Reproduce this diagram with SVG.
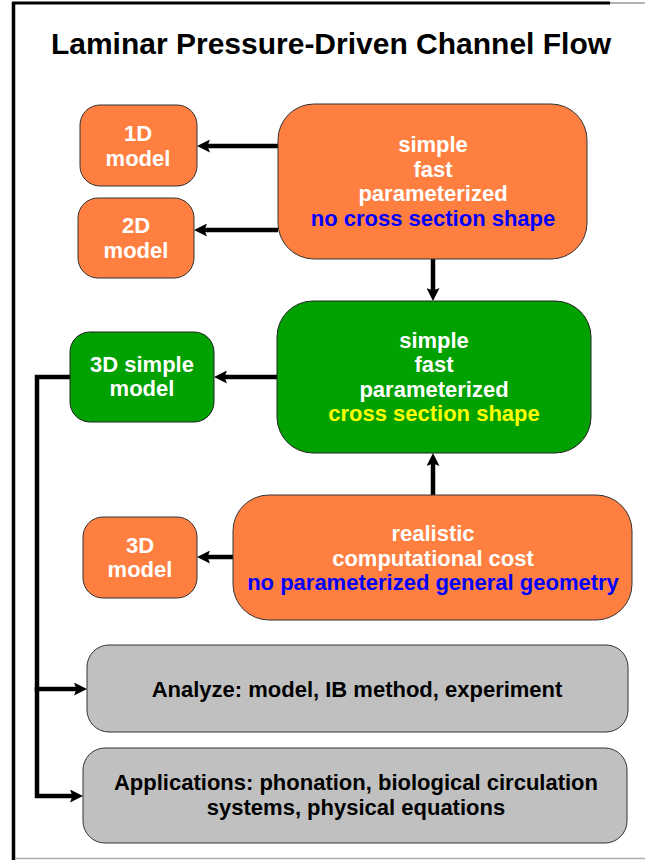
<svg xmlns="http://www.w3.org/2000/svg" width="645" height="860" viewBox="0 0 645 860">
  <style>
    .t { font-family: "Liberation Sans", Arial, sans-serif; font-weight: bold; text-anchor: middle; }
    .lbl { font-size: 22px; }
    .w { fill: #ffffff; }
    .k { fill: #000000; }
    .b { fill: #0000ff; }
    .y { fill: #ffff00; }
    .orange { fill: #ff7f41; stroke: #333333; stroke-width: 1; }
    .green { fill: #00a100; stroke: #222222; stroke-width: 1; }
    .grey { fill: #c0c0c0; stroke: #333333; stroke-width: 1; }
    .conn { fill: none; stroke: #000000; stroke-width: 4.5; stroke-linejoin: miter; marker-end: url(#ah); }
  </style>
  <defs>
    <marker id="ah" viewBox="0 0 13 13" markerWidth="13" markerHeight="13" refX="5" refY="6.5" orient="auto" markerUnits="userSpaceOnUse">
      <path d="M0,0 L13,6.5 L0,13 L2.5,6.5 z" fill="#000000"/>
    </marker>
  </defs>

  <rect x="0" y="0" width="645" height="860" fill="#ffffff"/>

  <g id="frame">
    <line x1="12" y1="3" x2="610" y2="3" stroke="#000000" stroke-width="3"/>
    <line x1="610" y1="3" x2="645" y2="3" stroke="#9a9a9a" stroke-width="1.5"/>
    <line x1="13.5" y1="2" x2="13.5" y2="860" stroke="#000000" stroke-width="3.5"/>
    <line x1="15" y1="858.5" x2="645" y2="858.5" stroke="#aaaaaa" stroke-width="1.5"/>
  </g>

  <g id="title">
    <text class="t k" x="331" y="54" font-size="30">Laminar Pressure-Driven Channel Flow</text>
  </g>

  <g id="connectors">
    <path class="conn" d="M278,146 L205,146"/>
    <path class="conn" d="M278,230 L202,230"/>
    <path class="conn" d="M433,259 L433,293"/>
    <path class="conn" d="M277,377 L222,377"/>
    <path class="conn" d="M433,495 L433,461"/>
    <path class="conn" d="M233,557 L205,557"/>
    <path class="conn" d="M70,377 L37,377 L37,689 L79,689"/>
    <path class="conn" d="M37,687 L37,796 L75,796"/>
  </g>

  <g id="node-1d">
    <rect class="orange" x="80" y="105" width="117" height="81" rx="20"/>
    <text class="t lbl w" x="138" y="141">1D</text>
    <text class="t lbl w" x="138" y="166">model</text>
  </g>

  <g id="node-2d">
    <rect class="orange" x="78" y="198" width="116" height="80" rx="20"/>
    <text class="t lbl w" x="136" y="233">2D</text>
    <text class="t lbl w" x="136" y="258">model</text>
  </g>

  <g id="node-analytic">
    <rect class="orange" x="278" y="104" width="309" height="155" rx="36"/>
    <text class="t lbl w" x="433" y="152">simple</text>
    <text class="t lbl w" x="433" y="177">fast</text>
    <text class="t lbl w" x="433" y="201">parameterized</text>
    <text class="t lbl b" x="433" y="226">no cross section shape</text>
  </g>

  <g id="node-3d-simple">
    <rect class="green" x="70" y="332" width="144" height="90" rx="20"/>
    <text class="t lbl w" x="142" y="372">3D simple</text>
    <text class="t lbl w" x="142" y="396">model</text>
  </g>

  <g id="node-simple-3d">
    <rect class="green" x="277" y="301" width="314" height="152" rx="36"/>
    <text class="t lbl w" x="434" y="348">simple</text>
    <text class="t lbl w" x="434" y="372">fast</text>
    <text class="t lbl w" x="434" y="397">parameterized</text>
    <text class="t lbl y" x="434" y="421">cross section shape</text>
  </g>

  <g id="node-3d">
    <rect class="orange" x="83" y="517" width="114" height="81" rx="20"/>
    <text class="t lbl w" x="140" y="553">3D</text>
    <text class="t lbl w" x="140" y="577">model</text>
  </g>

  <g id="node-realistic">
    <rect class="orange" x="233" y="495" width="399" height="125" rx="36"/>
    <text class="t lbl w" x="433" y="541">realistic</text>
    <text class="t lbl w" x="433" y="566">computational cost</text>
    <text class="t lbl b" x="433" y="590">no parameterized general geometry</text>
  </g>

  <g id="node-analyze">
    <rect class="grey" x="87" y="645" width="541" height="87" rx="22"/>
    <text class="t lbl k" x="357" y="697">Analyze: model, IB method, experiment</text>
  </g>

  <g id="node-applications">
    <rect class="grey" x="83" y="748" width="544" height="95" rx="22"/>
    <text class="t lbl k" x="356" y="790">Applications: phonation, biological circulation</text>
    <text class="t lbl k" x="356" y="815">systems, physical equations</text>
  </g>
</svg>
